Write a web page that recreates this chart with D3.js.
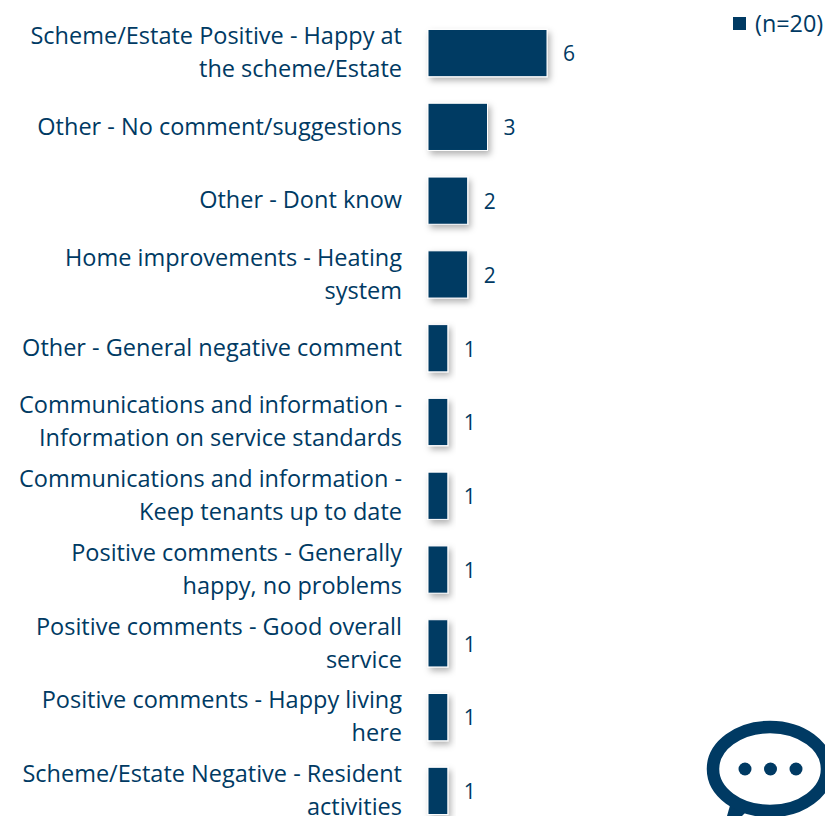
<!DOCTYPE html>
<html>
<head>
<meta charset="utf-8">
<script src="https://cdn.jsdelivr.net/npm/d3@7/dist/d3.min.js"></script>
<style>
html, body { margin: 0; padding: 0; background: #fff; overflow: hidden; }
text { font-family: "Open Sans", sans-serif; fill: #003a63; }
</style>
</head>
<body>
<div id="chart"></div>
<script>
// each category is split into the lines it wraps to
var categories = [
    ["Scheme/Estate Positive - Happy at", "the scheme/Estate"],
    ["Other - No comment/suggestions"],
    ["Other - Dont know"],
    ["Home improvements - Heating", "system"],
    ["Other - General negative comment"],
    ["Communications and information -", "Information on service standards"],
    ["Communications and information -", "Keep tenants up to date"],
    ["Positive comments - Generally", "happy, no problems"],
    ["Positive comments - Good overall", "service"],
    ["Positive comments - Happy living", "here"],
    ["Scheme/Estate Negative - Resident", "activities"]
];
var values = [6, 3, 2, 2, 1, 1, 1, 1, 1, 1, 1];
var seriesName = "(n=20)";

var navy = "#003a63";
var width = 825, height = 816;

var svg = d3.select("#chart").append("svg")
    .attr("width", width)
    .attr("height", height)
    .style("display", "block");

var defs = svg.append("defs");
var shadow = defs.append("filter").attr("id", "barshadow")
    .attr("x", "-30%").attr("y", "-30%").attr("width", "170%").attr("height", "170%");
shadow.append("feDropShadow")
    .attr("dx", 2.5).attr("dy", 3.5).attr("stdDeviation", 3)
    .attr("flood-color", "#000").attr("flood-opacity", 0.3);

var x = d3.scaleLinear().domain([0, 6]).range([428, 547]);
var y = d3.scaleBand()
    .domain(d3.range(categories.length))
    .range([16.2, 827.8])
    .paddingInner(0.36)
    .paddingOuter(0.18);

var rows = svg.selectAll("g.row")
    .data(values)
    .enter()
    .append("g")
    .attr("class", "row");

rows.append("rect")
    .attr("x", x(0))
    .attr("y", function(d, i) { return y(i); })
    .attr("width", function(d) { return x(d) - x(0); })
    .attr("height", y.bandwidth())
    .attr("fill", navy)
    .attr("stroke", "#fff")
    .attr("stroke-width", 1)
    .attr("filter", "url(#barshadow)");

rows.append("text")
    .attr("x", function(d) { return x(d) + 16; })
    .attr("y", function(d, i) { return y(i) + y.bandwidth() / 2 + 1; })
    .attr("dy", "0.35em")
    .style("font-size", "21px")
    .text(function(d) { return d; });

var labelSize = 23.5;
var lineGap = 33;
rows.append("text")
    .attr("text-anchor", "end")
    .style("font-size", labelSize + "px")
    .each(function(d, i) {
        var lines = categories[i];
        var mid = y(i) + y.bandwidth() / 2;
        var first = mid - (lines.length - 1) * lineGap / 2;
        d3.select(this).selectAll("tspan")
            .data(lines)
            .enter()
            .append("tspan")
            .attr("x", 402)
            .attr("y", function(l, k) { return first + k * lineGap; })
            .attr("dy", "0.33em")
            .text(function(l) { return l; });
    });

// legend
svg.append("rect")
    .attr("x", 733).attr("y", 17)
    .attr("width", 13).attr("height", 13)
    .attr("fill", navy);
svg.append("text")
    .attr("x", 755).attr("y", 24)
    .attr("dy", "0.33em")
    .style("font-size", "23.4px")
    .text(seriesName);

// speech bubble in the corner
var icon = svg.append("g");
icon.append("path")
    .attr("d", "M727,816 L733,795 L752,806 L742,816 Z")
    .attr("fill", navy);
icon.append("ellipse")
    .attr("cx", 770).attr("cy", 769)
    .attr("rx", 57).attr("ry", 42)
    .attr("fill", "#fff")
    .attr("stroke", navy)
    .attr("stroke-width", 12.5);
icon.selectAll("circle")
    .data([745, 770.5, 796])
    .enter()
    .append("circle")
    .attr("cx", function(d) { return d; })
    .attr("cy", 769)
    .attr("r", 6.5)
    .attr("fill", navy);
</script>
</body>
</html>
